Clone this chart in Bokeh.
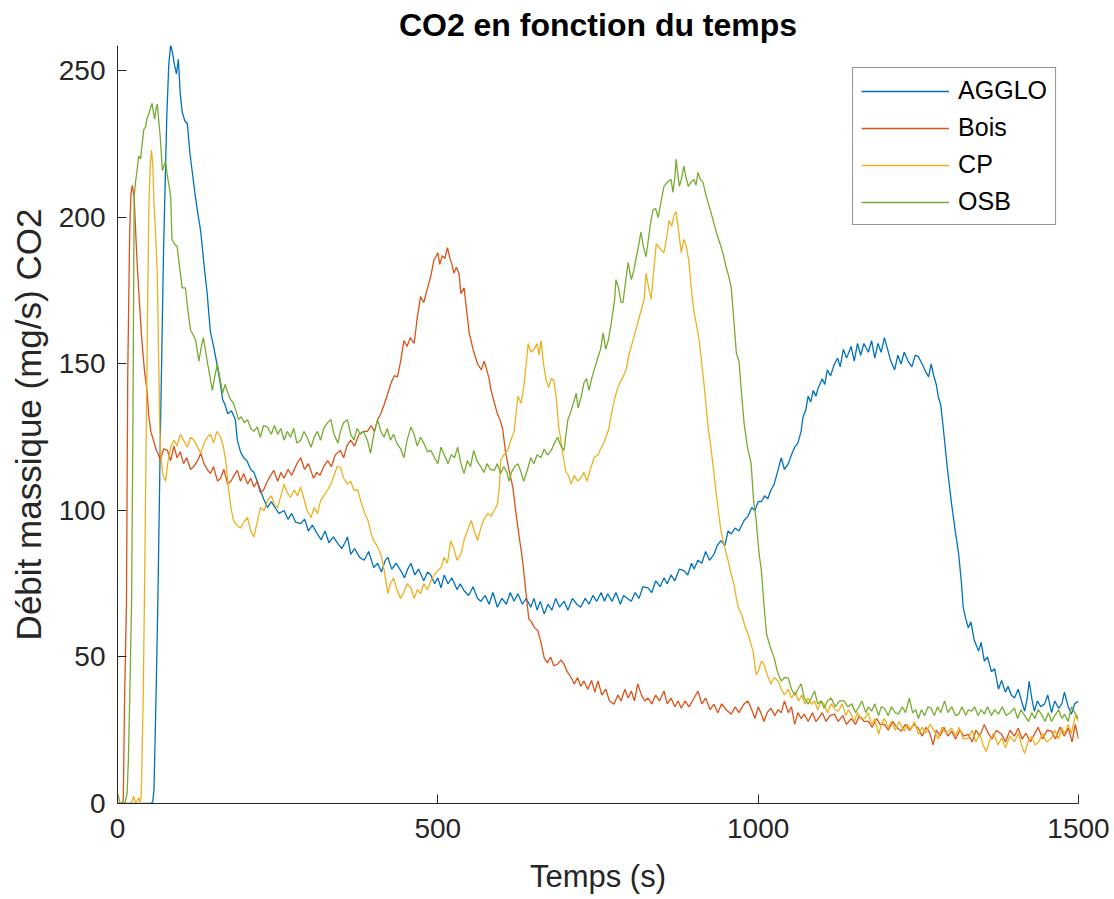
from bokeh.plotting import figure
from bokeh.models import Range1d, FixedTicker, Legend, LegendItem
from bokeh.embed import file_html
from bokeh.resources import INLINE

# ---------------- data (time s, CO2 mass flow mg/s) ----------------
series_names = ["AGGLO", "Bois", "CP", "OSB"]
series_colors = ["#0072BD", "#D95319", "#EDB120", "#77AC30"]
x_ticks = [0, 500, 1000, 1500]
y_ticks = [0, 50, 100, 150, 200, 250]

agglo = [(0,0),(20,0),(40,0),(52,0),(55,0.5),(57,5),(60,35),(63,69),(67,127),(72,190),(77,235),(80,252),(83,259),(86,256),(89,252),(92,249),(95,254),(98,242),(101,236),(105,233),(109,232),(113,222),(117,215),(121,208),(125,202),(130,195),(135,184),(140,174),(143,166),(145,161),(150,156),(156,149),(160,144),(164,138),(168,136),(172,133),(178,134),(184,131),(187,124),(192,120),(197,118),(202,117),(208,114),(213,113),(218,110),(223,107),(228,104),(234,101),(240,103),(246,101),(252,99),(260,100),(266,97),(272,99),(278,96),(286,95.5),(292,97),(298,93),(304,95),(312,92),(318,90),(324,93),(330,89),(337,91),(344,88.7),(350,87),(355,89),(359,91),(364,85),(370,87),(378,84),(385,83),(392,86),(400,80.5),(406,82),(412,79),(418,83),(422,84),(428,80),(435,82),(442,79.5),(448,77),(453,80),(458,82),(464,78),(470,80),(478,76),(484,79),(489,78),(495,75),(500,77),(505,73.6),(510,78),(516,75),(522,77),(530,73),(535,75),(541,72.6),(548,71),(555,74),(562,70),(567,69),(574,71),(580,68),(586,72),(593,67),(600,70),(607,68),(613,72),(619,69),(625,71.6),(632,68),(638,70),(645,67),(650,70),(655,66),(660,69),(666,64.7),(672,68),(678,66),(684,70),(690,67),(697,69),(703,66),(710,70),(717,68),(723,67),(730,70),(736,68),(742,71),(748,69),(755,72),(760,69),(765,71.6),(772,69),(778,72),(785,68),(790,71),(796,70),(802,69),(808,72),(814,70),(820,74),(828,73.6),(834,72),(840,76),(847,74),(853,77),(858,75),(864,78),(870,76),(877,80),(884,79.5),(890,78),(896,82),(900,80),(906,83),(912,82),(918,86),(924,83),(931,85),(936,88),(942,89.7),(948,88),(953,93),(958,92),(964,94),(970,93),(978,96.6),(984,98),(990,101),(995,100),(1000,103),(1005,103),(1010,105),(1015,104),(1020,107),(1025,109),(1030,113),(1036,118),(1041,114),(1047,116),(1052,119),(1057,121.6),(1062,123),(1067,127),(1070,132),(1074,134),(1078,139),(1082,137),(1086,141),(1090,139),(1094,142),(1100,145),(1104,143),(1108,148),(1113,146),(1119,150),(1124,152),(1128,149),(1133,155),(1138,152),(1145,156),(1150,151),(1155,157),(1160,153),(1165,157),(1172,154),(1177,158),(1182,152),(1187,157),(1192,154),(1197,159),(1202,155),(1207,151),(1213,148),(1218,153),(1223,150),(1228,154),(1234,151),(1240,149),(1245,153),(1250,152.5),(1256,150),(1260,148),(1266,145.6),(1270,150),(1274,146),(1278,143),(1281,139),(1285,136),(1289,128),(1295,115),(1302,102),(1307,94),(1313,85),(1317,76),(1320,67),(1324,63),(1328,60),(1332,62),(1337,56),(1344,52),(1348,55),(1353,48.6),(1358,50),(1364,45),(1369,46),(1375,39),(1380,42),(1386,38),(1390,40),(1395,37),(1400,36),(1406,39),(1411,35),(1416,31.5),(1420,36),(1423,41.8),(1427,36),(1431,31.5),(1436,35),(1441,33),(1447,34),(1452,37),(1458,31),(1463,35),(1469,32.5),(1474,34),(1478,38),(1484,33),(1489,30.5),(1494,34),(1500,35)]

bois = [(0,0),(3,0),(6,0),(9,1),(11,35),(14,69),(16,147),(19,195),(21,208),(23,211),(26,207),(29,192),(31,183),(34,172),(38,158),(42,148),(46,141),(49,132),(52,127),(56,124),(60,121),(64,119),(67,117),(72,121),(78,120.5),(83,117),(88,122),(93,118),(98,120),(103,116),(108,118),(114,114),(119,115),(125,117),(130,119.5),(135,116),(140,114),(145,112.6),(150,115),(156,110),(161,111),(166,114),(172,109),(177,110),(182,112),(187,113.7),(192,110),(197,112.6),(203,109),(208,111),(213,108),(218,110),(223,106),(228,107),(234,110),(239,112),(244,113.7),(250,110),(255,113),(260,111),(266,114),(272,112),(280,116),(286,118),(292,114),(298,116),(306,111),(311,113),(316,112),(322,115),(328,117),(334,115),(340,119),(348,120.5),(353,118),(358,122),(364,124),(370,122),(377,126),(384,127),(390,127),(396,129),(401,127),(406,131),(411,133),(416,136),(422,140),(427,143.5),(432,146),(437,145.6),(442,151),(447,158),(452,156),(457,159),(463,157),(468,166),(473,173),(478,171),(484,176),(489,180),(494,185.6),(497,186.6),(500,188),(503,184),(507,187),(511,186),(515,189.7),(519,186),(522,184),(525,181),(529,183),(533,181),(536,174),(541,176),(545,168),(549,160.6),(555,155),(562,150),(568,148),(572,151),(575,149),(580,145),(583,141),(588,137),(593,133),(597,131),(601,128),(606,119.5),(611,114),(617,108),(622,99),(627,91),(631,85),(634,79.5),(638,71),(642,63),(646,62),(651,60),(656,59),(661,55),(666,49.7),(671,48),(676,50),(681,47),(687,47.6),(692,49),(697,47.6),(702,45),(708,43),(713,40.8),(718,43),(723,40),(728,41.8),(734,39),(740,42),(745,38),(750,41.8),(756,37),(762,39),(768,35),(775,33.9),(781,37),(786,35),(792,39),(797,36),(802,38.4),(807,35),(812,40.8),(818,37),(823,35),(828,36),(834,34),(840,37),(846,35),(853,38.4),(858,34),(864,36),(870,33),(875,35),(880,32.5),(886,35),(892,33),(900,36),(906,38.4),(912,34),(918,36),(925,32),(931,33.9),(937,31),(943,34),(950,32),(958,30.5),(964,33),(970,31),(978,34),(984,35),(990,32),(995,29),(1000,33),(1005,30.5),(1009,28),(1014,31),(1020,32.5),(1026,30),(1031,32),(1036,31),(1041,35),(1047,31),(1052,33),(1057,27),(1062,31),(1067,29),(1072,30.5),(1078,28),(1085,31),(1090,28),(1094,29),(1100,31),(1106,28),(1112,30),(1119,30.5),(1125,28),(1132,30),(1138,27),(1145,29),(1152,27),(1158,30),(1165,28),(1172,28),(1178,26),(1185,29),(1190,27),(1197,27),(1203,25),(1210,28),(1216,26),(1223,24.7),(1230,27),(1236,25),(1243,27),(1250,25.7),(1256,23),(1262,26),(1268,24),(1273,20),(1278,25),(1284,23),(1290,26),(1296,23),(1302,24.7),(1308,22),(1315,25),(1321,23),(1328,23.6),(1334,21),(1340,25),(1346,23),(1353,27),(1359,24),(1365,22),(1372,25),(1380,23.6),(1386,21),(1393,25),(1400,23),(1406,25.7),(1412,22),(1418,24),(1425,21),(1431,23.6),(1437,26),(1444,22),(1451,25),(1458,24.7),(1464,22),(1471,26),(1478,23),(1484,25.7),(1490,21),(1495,27),(1500,22)]

cp = [(0,0),(10,0),(20,0),(23,1),(25,2.5),(27,1),(29,0),(31,1),(33,2),(35,0.5),(37,2),(40,35),(42,69),(45,128),(47,170),(49,204),(51,218),(53,223),(55,218),(57,205),(60,192),(62,181),(64,155),(66,128),(68,118),(71,112),(75,110),(79,117),(83,121.6),(88,124),(93,122),(98,126),(103,124),(109,121.6),(114,125),(119,124),(124,122),(130,119.5),(135,123),(140,125),(145,126),(150,123),(155,127),(161,125),(165,122),(169,117),(173,108),(177,101),(181,96.6),(186,95),(192,94),(197,96),(203,97.6),(208,93),(213,91),(218,96),(223,101),(229,100),(234,103.4),(240,105),(245,102),(250,101),(255,105),(260,109),(265,106),(270,104.5),(276,107),(281,105),(286,108),(291,104),(296,100),(302,97.6),(307,101),(312,99),(317,103.4),(322,105),(328,107),(333,109),(338,112),(343,115),(348,114.7),(353,111),(359,109),(364,110),(369,107),(375,107),(380,103),(386,99),(391,96.6),(396,92),(400,89.7),(405,88),(411,85),(416,80),(422,71.6),(426,75),(431,77),(436,73),(442,70),(447,72),(452,75),(458,73.6),(463,70),(468,73),(473,71.6),(478,75),(484,73),(489,76),(494,78),(500,79.5),(505,80.5),(510,84),(515,82),(520,89.7),(525,87),(530,83),(536,85),(541,90),(546,93),(552,96.6),(557,93),(562,89.7),(567,94),(572,97),(578,99),(583,98),(588,100),(593,102),(596,108),(598,117),(603,119),(609,120.5),(614,124),(619,127),(622,133),(625,139),(630,136.6),(634,142),(638,150),(641,157),(645,154),(650,155),(655,157),(658,153),(661,158),(665,150),(669,144.5),(673,142),(677,145),(681,144.5),(685,138),(689,128),(692,124),(696,118),(700,113),(704,112),(708,109),(713,112),(718,110),(723,111),(728,113),(733,110),(738,114),(744,118),(750,119),(754,121),(759,123),(764,126),(767,128),(770,132),(773,135),(777,139),(781,142),(785,144),(789,145.6),(794,148),(798,153),(802,156),(807,160),(812,164),(817,168),(822,172),(825,181),(829,176),(833,172),(837,182),(841,191),(845,190),(848,189),(853,188),(857,193),(861,199),(865,197),(869,201),(872,202),(876,195),(880,188),(884,192.5),(888,190),(892,184.6),(896,175),(900,167.5),(904,163),(908,158),(912,150),(916,142),(919,135),(922,128),(926,122),(931,112.6),(936,103),(942,93),(947,88),(953,83),(957,79),(962,75),(966,70),(969,67),(975,64),(980,60),(984,58),(988,55),(992,52),(995,47),(997,44),(1000,45),(1005,48.6),(1009,47.6),(1014,44),(1020,40.8),(1025,43),(1031,41.8),(1036,39),(1041,37),(1047,39),(1052,36),(1058,38),(1063,35),(1068,37),(1073,34),(1078,36),(1083,33.9),(1088,35),(1093,32),(1098,35),(1103,33.9),(1108,31),(1114,34),(1120,32),(1125,31.5),(1131,34),(1137,30),(1141,32),(1145,30.5),(1150,28),(1155,31),(1160,29),(1166,29),(1172,31),(1177,27),(1182,29),(1188,23.6),(1192,27),(1197,29),(1203,26),(1208,28),(1214,25),(1220,28),(1228,24.7),(1233,27),(1238,25),(1244,28),(1250,23.6),(1256,26),(1262,24),(1268,27),(1275,24.7),(1281,22),(1287,26),(1293,24),(1302,25.7),(1308,23),(1314,26),(1320,22),(1328,22.3),(1334,25),(1340,21),(1346,24),(1351,20),(1356,17.8),(1362,22),(1368,24),(1374,20),(1380,22.3),(1386,19),(1393,23),(1400,21),(1406,24),(1411,20),(1416,17),(1421,21),(1427,23),(1432,20),(1438,21),(1444,24),(1450,21),(1458,22.3),(1463,25),(1469,22),(1474,26),(1478,23.6),(1484,27),(1489,24),(1495,30),(1500,28)]

osb = [(0,3.5),(2,2),(4,0),(8,0),(12,0.5),(15,3.5),(17,15),(19,35),(22,69),(24,127),(26,207),(28,212),(30,215),(33,221),(36,220),(38,224),(41,230),(44,231),(46,234),(48,234.6),(51,237),(54,239),(56,236),(58,233.6),(60,237),(62,238.7),(64,234),(67,226.7),(70,216),(73,218),(75,219),(78,214),(81,210),(83,207),(85,192.5),(89,191),(93,190),(97,183),(101,176),(106,176),(110,168),(114,161.6),(118,160),(122,158),(127,151),(131,156),(134,159),(137,155),(140,151),(144,146),(148,141),(152,146),(156,150),(160,145),(164,140),(168,143),(171,141),(176,138),(181,136.6),(185,134),(189,131),(193,132),(198,130),(203,131),(208,128),(213,127),(218,128.5),(223,125),(228,129),(234,128.5),(240,126),(245,129),(250,126),(255,128),(260,124),(265,127),(270,125),(275,128),(280,123),(286,124),(291,127),(296,125),(302,121.6),(307,125),(312,127),(317,124),(322,128),(328,130),(333,131),(338,126),(344,123),(348,127),(353,130),(359,131),(364,126),(369,124),(374,128),(379,126),(384,127),(390,124),(395,119.5),(400,126),(406,131),(411,127),(416,125),(421,128),(426,124),(431,126),(436,123),(442,121),(447,118),(452,124),(458,128.5),(463,126),(468,122),(473,125),(478,123),(484,120),(489,120.5),(495,118),(500,116),(505,121.6),(510,119),(516,116),(521,119),(526,118),(531,121.6),(536,116),(541,112.6),(546,117),(551,115),(556,120.5),(561,117),(567,115),(572,113),(577,116),(582,114),(588,113.7),(593,116),(598,112.6),(603,115),(608,113),(611,110),(615,113),(620,115),(625,116),(630,113),(634,110),(640,114),(645,118),(650,116),(655,119),(661,118),(666,121),(671,119),(677,120.5),(682,123),(687,125),(692,122),(697,120.5),(700,126),(703,131),(708,134),(713,137.7),(716,140),(719,135),(724,139),(728,143.5),(732,145),(736,141),(740,145),(744,148),(747,150),(750,152.4),(754,155),(758,160.6),(762,155),(766,158),(770,163),(773,167.5),(776,172),(778,178.8),(782,176),(786,171),(789,171),(793,178),(797,184.6),(800,181),(802,178.8),(806,182),(809,185.6),(813,190),(817,195),(821,190),(825,186.6),(829,193),(832,198),(836,202.7),(840,203),(844,200),(848,205),(853,210.6),(858,212),(864,213),(867,208.6),(870,214),(872,219.9),(875,214),(877,210.6),(880,213),(884,217.5),(887,214),(891,210.6),(895,212),(900,213),(903,211),(906,215.4),(910,213),(914,212),(918,208),(922,205),(926,202),(931,198),(936,194),(942,190),(946,187),(950,183),(954,180),(958,176),(962,165),(966,153.6),(970,151),(974,140),(978,129.8),(983,122),(989,116),(993,103),(997,96.6),(1001,86),(1005,79.5),(1009,68),(1013,58),(1018,54),(1025,49.7),(1030,45),(1036,41.8),(1041,43),(1047,42.8),(1052,39),(1057,37),(1062,39),(1067,40.8),(1072,36),(1078,33.9),(1083,36),(1088,38.4),(1093,34),(1098,35),(1103,32.5),(1108,35),(1114,36),(1120,33),(1127,35),(1134,35),(1140,33),(1146,34),(1152,31),(1156,32.5),(1162,35),(1168,31),(1172,33),(1177,31.5),(1182,34),(1188,30),(1192,33),(1197,32.5),(1203,30),(1208,33),(1214,31),(1219,30.5),(1225,33),(1230,31),(1236,36),(1241,31),(1246,32),(1250,29),(1255,32),(1260,30),(1265,33),(1270,32.5),(1275,30),(1280,33),(1285,31),(1291,35),(1296,31),(1302,33),(1308,30),(1313,30.5),(1318,33),(1324,30),(1328,32),(1333,31.5),(1338,33),(1343,30),(1348,32),(1353,30.5),(1358,33),(1364,30),(1369,32),(1375,30.5),(1381,33),(1387,30),(1393,31),(1400,32.5),(1405,29),(1410,32),(1416,30),(1422,28),(1427,31),(1432,29),(1437,32),(1442,30.5),(1448,28),(1453,31),(1458,28),(1463,30),(1469,32),(1474,29),(1478,30.5),(1484,28),(1489,33),(1494,31),(1500,29)]

all_series = [agglo, bois, cp, osb]

# ---------------- figure ----------------
AX = "#262626"
FONT = "Liberation Sans"

p = figure(width=1114, height=899, output_backend="svg", toolbar_location=None,
           x_range=Range1d(0, 1500), y_range=Range1d(0, 258.7),
           min_border_left=117, min_border_right=36, min_border_top=45, min_border_bottom=96,
           title="CO2 en fonction du temps")
p.background_fill_color = "white"
p.border_fill_color = "white"
p.outline_line_color = None
p.grid.visible = False

p.title.align = "center"
p.title.text_font = FONT
p.title.text_font_size = "32px"
p.title.text_font_style = "bold"
p.title.text_color = "black"
p.title.standoff = 6

for ax in (p.xaxis[0], p.yaxis[0]):
    ax.axis_line_color = AX
    ax.axis_line_width = 1
    ax.major_tick_line_color = AX
    ax.major_tick_in = 9
    ax.major_tick_out = 0
    ax.minor_tick_line_color = None
    ax.major_label_text_font = FONT
    ax.major_label_text_font_size = "28px"
    ax.major_label_text_color = AX
    ax.axis_label_text_font = FONT
    ax.axis_label_text_font_style = "normal"
    ax.axis_label_text_color = AX

p.xaxis.axis_label_text_font_size = "31px"
p.yaxis.axis_label_text_font_size = "35px"
p.xaxis.ticker = FixedTicker(ticks=x_ticks)
p.yaxis.ticker = FixedTicker(ticks=y_ticks)
p.xaxis.axis_label = "Temps (s)"
p.yaxis.axis_label = "Débit massique (mg/s) CO2"
p.xaxis.major_label_standoff = 15
p.yaxis.major_label_standoff = 12
p.xaxis.axis_label_standoff = 18
p.yaxis.axis_label_standoff = 8

items = []
for name, color, data in zip(series_names, series_colors, all_series):
    xs = [d[0] for d in data]
    ys = [d[1] for d in data]
    r = p.line(xs, ys, line_color=color, line_width=1.3)
    items.append(LegendItem(label=name, renderers=[r]))

legend = Legend(items=items, location="top_right")
legend.margin = 22
legend.padding = 8
legend.spacing = 8
legend.glyph_width = 88
legend.glyph_height = 24
legend.label_height = 24
legend.label_standoff = 9
legend.label_text_font = FONT
legend.label_text_font_size = "25px"
legend.label_text_color = "black"
legend.border_line_color = AX
legend.border_line_width = 1
legend.background_fill_color = "white"
legend.background_fill_alpha = 1
p.add_layout(legend)

open("out.html", "w").write(file_html(p, INLINE))
